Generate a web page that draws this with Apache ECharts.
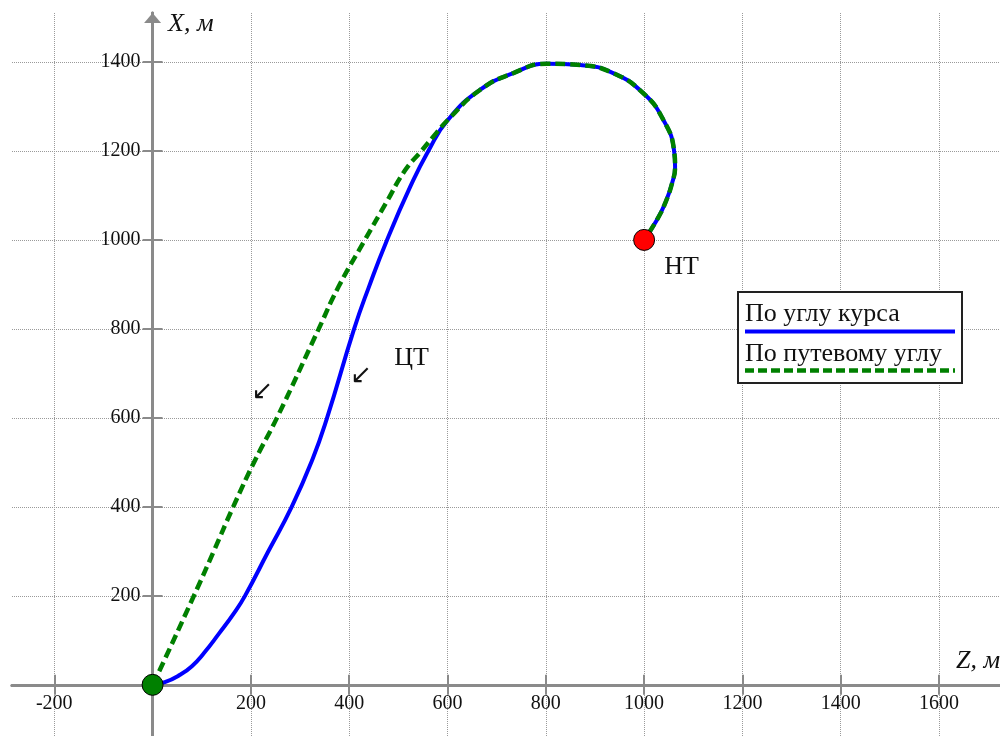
<!DOCTYPE html>
<html><head><meta charset="utf-8">
<script src="https://cdn.jsdelivr.net/npm/echarts@6/dist/echarts.min.js"></script>
<style>html,body{margin:0;padding:0;background:#fff}#c{width:1000px;height:736px}</style>
</head><body><div id="c"></div>
<script>
// ---- data ----
const seriesNames = ['По углу курса', 'По путевому углу'];
// approach part of the heading-angle trajectory (Z, X in metres)
const headingZ = [0, 25, 55, 80, 105, 135, 165, 188, 235, 283, 325, 355, 410, 440, 477, 524, 561];
const headingX = [0, 6, 22, 42, 72, 115, 160, 200, 299, 400, 506, 600, 800, 894, 1000, 1119, 1200];
// approach part of the track-angle trajectory
const trackZ = [0, 12, 84, 124, 164, 209, 253, 338, 378, 432, 475, 514, 547, 571];
const trackX = [0, 27, 200, 299, 400, 506, 600, 800, 894, 1000, 1083, 1157, 1200, 1232];
// common arc from the turn to the initial point
const arcZ = [601, 666, 734, 802, 870, 937, 998, 1039, 1061, 1063, 1057, 1043, 1026, 1000];
const arcX = [1270, 1337, 1375, 1396, 1393, 1375, 1330, 1270, 1200, 1164, 1128, 1083, 1045, 1000];
// special points: target (origin) and initial point
const pointZ = [0, 1000];
const pointX = [0, 1000];
// annotations
const noteTexts = ['НТ', 'ЦТ', '↙', '↙'];
const noteZ = [1076, 527, 223, 424];
const noteX = [939, 735, 658, 694];
// axes
const zRange = [-286, 1724];
const xRange = [-115, 1510];
const zTicks = [-200, 0, 200, 400, 600, 800, 1000, 1200, 1400, 1600];
const xTicks = [0, 200, 400, 600, 800, 1000, 1200, 1400];
const zLabels = [-200, 200, 400, 600, 800, 1000, 1200, 1400, 1600];
const xLabels = [200, 400, 600, 800, 1000, 1200, 1400];
const zName = 'Z, м';
const xName = 'X, м';

// ---- build ----
const W = 1000, H = 736;
const G = { left: 12, right: 0, top: 13, bottom: 0 };
const zero_px = G.left + (0 - zRange[0]) / (zRange[1] - zRange[0]) * (W - G.left - G.right);
const zero_py = G.top + (xRange[1] - 0) / (xRange[1] - xRange[0]) * (H - G.top - G.bottom);

const zip = (a, b) => a.map((v, i) => [v, b[i]]);
const headingData = zip(headingZ, headingX).concat(zip(arcZ, arcX));
const trackData = zip(trackZ, trackX).concat(zip(arcZ, arcX));

const AX = '#8a8a8a';
const SERIF = '"Liberation Serif", "Times New Roman", serif';
const fmt = v => String(v);

function xAxisCfg(primary) {
  return {
    type: 'value', min: zRange[0], max: zRange[1],
    position: primary ? 'bottom' : 'top',
    offset: primary ? -((H - G.bottom) - zero_py) : -(zero_py - G.top),
    axisLine: { show: true, onZero: false, lineStyle: { color: AX, width: 3 } },
    axisTick: { show: true, customValues: zTicks, length: 10, inside: false, lineStyle: { color: AX, width: 2 } },
    axisLabel: primary ? { show: true, customValues: zLabels, formatter: fmt, margin: 9, fontFamily: SERIF, fontSize: 20, color: '#111' } : { show: false },
    splitLine: primary ? { show: true, lineStyle: { color: '#9a9a9a', width: 1, type: [1, 1] } } : { show: false }
  };
}
function yAxisCfg(primary) {
  return {
    type: 'value', min: xRange[0], max: xRange[1],
    position: primary ? 'left' : 'right',
    offset: primary ? -(zero_px - G.left) : -((W - G.right) - zero_px),
    axisLine: { show: true, onZero: false,
      symbol: primary ? ['none', 'triangle'] : ['none', 'none'], symbolSize: [17, 10], symbolOffset: [0, -5],
      lineStyle: { color: AX, width: 3 } },
    axisTick: { show: true, customValues: xTicks, length: 10, inside: false, lineStyle: { color: AX, width: 2 } },
    axisLabel: primary ? { show: true, customValues: xLabels, formatter: fmt, margin: 12, fontFamily: SERIF, fontSize: 20, color: '#111' } : { show: false },
    splitLine: primary ? { show: true, lineStyle: { color: '#9a9a9a', width: 1, type: [1, 1] } } : { show: false }
  };
}

const chart = echarts.init(document.getElementById('c'), null, { renderer: 'canvas' });
chart.setOption({
  animation: false,
  backgroundColor: '#fff',
  grid: Object.assign({ containLabel: false, outerBoundsMode: 'none' }, G),
  xAxis: [xAxisCfg(true), xAxisCfg(false)],
  yAxis: [yAxisCfg(true), yAxisCfg(false)],
  series: [
    { name: seriesNames[0], type: 'line', data: headingData, smooth: 0.5, showSymbol: false,
      lineStyle: { color: '#0000ff', width: 4 }, z: 2 },
    { name: seriesNames[1], type: 'line', data: trackData, smooth: 0.5, showSymbol: false,
      lineStyle: { color: '#008000', width: 4.5, type: [10, 5] }, z: 3 },
    { type: 'scatter', data: [
        { value: [pointZ[0], pointX[0]], itemStyle: { color: '#008000' } },
        { value: [pointZ[1], pointX[1]], itemStyle: { color: '#ff0000' } }
      ], symbolSize: 21, itemStyle: { borderColor: '#000', borderWidth: 1, opacity: 1 }, z: 5 },
    { type: 'scatter', symbolSize: 1, itemStyle: { color: 'transparent', opacity: 1 }, z: 6,
      data: noteTexts.map((t, i) => ({ name: t, value: [noteZ[i], noteX[i]],
        label: { fontFamily: t === '↙' ? '"DejaVu Sans", sans-serif' : SERIF, fontSize: 26 } })),
      label: { show: true, position: 'inside', formatter: '{b}', color: '#111', opacity: 1 } }
  ],
  graphic: [
    { type: 'text', x: 168, y: 24, z: 10, style: { text: xName, font: 'italic 26px ' + SERIF, fill: '#111', align: 'left', verticalAlign: 'middle' } },
    { type: 'text', x: 956, y: 661, z: 10, style: { text: zName, font: 'italic 26px ' + SERIF, fill: '#111', align: 'left', verticalAlign: 'middle' } },
    { type: 'rect', z: 10, shape: { x: 738, y: 292, width: 224, height: 91 }, style: { fill: '#fff', stroke: '#222', lineWidth: 2 } },
    { type: 'text', x: 745, y: 314, z: 11, style: { text: seriesNames[0], font: '26px ' + SERIF, fill: '#111', align: 'left', verticalAlign: 'middle' } },
    { type: 'line', z: 11, shape: { x1: 745, y1: 331.5, x2: 955, y2: 331.5 }, style: { stroke: '#0000ff', lineWidth: 4 } },
    { type: 'text', x: 745, y: 354, z: 11, style: { text: seriesNames[1], font: '26px ' + SERIF, fill: '#111', align: 'left', verticalAlign: 'middle' } },
    { type: 'line', z: 11, shape: { x1: 745, y1: 370.5, x2: 955, y2: 370.5 }, style: { stroke: '#008000', lineWidth: 4.5, lineDash: [9, 4] } }
  ]
});
</script></body></html>
